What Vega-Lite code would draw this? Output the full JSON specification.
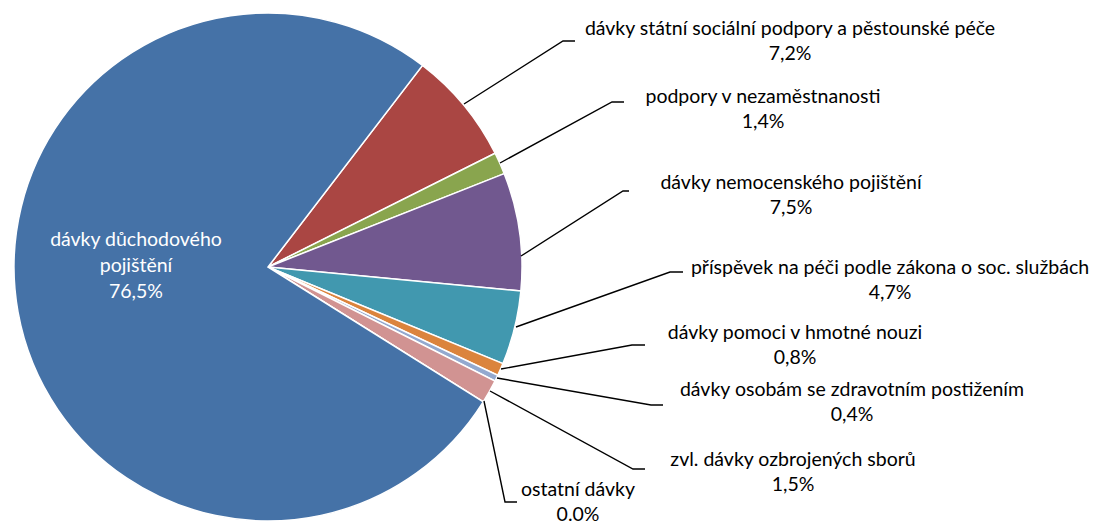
{
  "$schema": "https://vega.github.io/schema/vega-lite/v6.json",
  "width": 1097,
  "height": 521,
  "padding": 0,
  "autosize": {"type": "none"},
  "background": "white",
  "config": {"view": {"stroke": null}, "font": "Lato"},
  "datasets": {
    "slices": [
      {"kat": "dávky státní sociální podpory a pěstounské péče", "podil": 7.2, "poradi": 1},
      {"kat": "podpory v nezaměstnanosti", "podil": 1.4, "poradi": 2},
      {"kat": "dávky nemocenského pojištění", "podil": 7.5, "poradi": 3},
      {"kat": "příspěvek na péči podle zákona o soc. službách", "podil": 4.7, "poradi": 4},
      {"kat": "dávky pomoci v hmotné nouzi", "podil": 0.8, "poradi": 5},
      {"kat": "dávky osobám se zdravotním postižením", "podil": 0.4, "poradi": 6},
      {"kat": "zvl. dávky ozbrojených sborů", "podil": 1.5, "poradi": 7},
      {"kat": "ostatní dávky", "podil": 0.0, "poradi": 8},
      {"kat": "dávky důchodového pojištění", "podil": 76.5, "poradi": 9}
    ],
    "popisky": [
      {"text": "dávky státní sociální podpory a pěstounské péče\n7,2%", "x": 522, "y": 238},
      {"text": "podpory v nezaměstnanosti\n1,4%", "x": 495, "y": 170},
      {"text": "dávky nemocenského pojištění\n7,5%", "x": 523, "y": 84},
      {"text": "příspěvek na péči podle zákona o soc. službách\n4,7%", "x": 622, "y": -1},
      {"text": "dávky pomoci v hmotné nouzi\n0,8%", "x": 527, "y": -66},
      {"text": "dávky osobám se zdravotním postižením\n0,4%", "x": 584, "y": -123},
      {"text": "zvl. dávky ozbrojených sborů\n1,5%", "x": 525, "y": -193},
      {"text": "ostatní dávky\n0.0%", "x": 310, "y": -223}
    ],
    "vnitrni": [
      {"text": "dávky důchodového\npojištění\n76,5%", "x": -132, "y": 27}
    ],
    "vodici": [
      {"k": 1, "i": 0, "x": 196, "y": 163}, {"k": 1, "i": 1, "x": 295, "y": 226}, {"k": 1, "i": 2, "x": 307, "y": 226},
      {"k": 2, "i": 0, "x": 232, "y": 104}, {"k": 2, "i": 1, "x": 344, "y": 165}, {"k": 2, "i": 2, "x": 356, "y": 165},
      {"k": 3, "i": 0, "x": 253, "y": 11}, {"k": 3, "i": 1, "x": 355, "y": 76}, {"k": 3, "i": 2, "x": 361, "y": 76},
      {"k": 4, "i": 0, "x": 248, "y": -60}, {"k": 4, "i": 1, "x": 402, "y": -5}, {"k": 4, "i": 2, "x": 415, "y": -5},
      {"k": 5, "i": 0, "x": 233, "y": -102}, {"k": 5, "i": 1, "x": 364, "y": -78}, {"k": 5, "i": 2, "x": 377, "y": -78},
      {"k": 6, "i": 0, "x": 229, "y": -111}, {"k": 6, "i": 1, "x": 383, "y": -138}, {"k": 6, "i": 2, "x": 395, "y": -138},
      {"k": 7, "i": 0, "x": 222, "y": -124}, {"k": 7, "i": 1, "x": 365, "y": -202}, {"k": 7, "i": 2, "x": 377, "y": -202},
      {"k": 8, "i": 0, "x": 216, "y": -134}, {"k": 8, "i": 1, "x": 237, "y": -235}, {"k": 8, "i": 2, "x": 249, "y": -235}
    ]
  },
  "layer": [
    {
      "data": {"name": "slices"},
      "mark": {"type": "arc", "outerRadius": 254, "stroke": "white", "strokeWidth": 1.5},
      "encoding": {
        "x": {"datum": 0, "type": "quantitative", "scale": {"domain": [-268, 829], "nice": false, "zero": false}, "axis": null},
        "y": {"datum": 0, "type": "quantitative", "scale": {"domain": [-254, 267], "nice": false, "zero": false}, "axis": null},
        "theta": {"field": "podil", "type": "quantitative", "stack": true, "scale": {"range": [0.654, 6.937]}},
        "order": {"field": "poradi", "type": "quantitative"},
        "color": {
          "field": "kat", "type": "nominal", "legend": null,
          "scale": {
            "domain": ["dávky státní sociální podpory a pěstounské péče", "podpory v nezaměstnanosti", "dávky nemocenského pojištění", "příspěvek na péči podle zákona o soc. službách", "dávky pomoci v hmotné nouzi", "dávky osobám se zdravotním postižením", "zvl. dávky ozbrojených sborů", "ostatní dávky", "dávky důchodového pojištění"],
            "range": ["#AA4643", "#89A54E", "#71588F", "#4198AF", "#DB843D", "#93A9CF", "#D19392", "#A47D7C", "#4572A7"]
          }
        }
      }
    },
    {
      "data": {"name": "vodici"},
      "mark": {"type": "line", "color": "black", "strokeWidth": 1.4},
      "encoding": {
        "x": {"field": "x", "type": "quantitative", "axis": null},
        "y": {"field": "y", "type": "quantitative", "axis": null},
        "detail": {"field": "k", "type": "nominal"},
        "order": {"field": "i", "type": "quantitative"}
      }
    },
    {
      "data": {"name": "popisky"},
      "mark": {"type": "text", "fontSize": 19.5, "lineHeight": 25, "lineBreak": "\n", "align": "center", "baseline": "middle", "color": "black"},
      "encoding": {
        "x": {"field": "x", "type": "quantitative", "axis": null},
        "y": {"field": "y", "type": "quantitative", "axis": null},
        "text": {"field": "text"}
      }
    },
    {
      "data": {"name": "vnitrni"},
      "mark": {"type": "text", "fontSize": 19.5, "lineHeight": 26, "lineBreak": "\n", "align": "center", "baseline": "middle", "color": "white"},
      "encoding": {
        "x": {"field": "x", "type": "quantitative", "axis": null},
        "y": {"field": "y", "type": "quantitative", "axis": null},
        "text": {"field": "text"}
      }
    }
  ]
}
